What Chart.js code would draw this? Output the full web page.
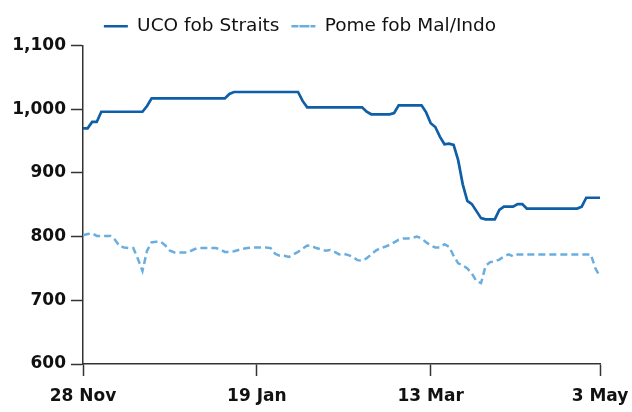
<!DOCTYPE html>
<html>
<head>
<meta charset="utf-8">
<script src="https://cdn.jsdelivr.net/npm/chart.js@4/dist/chart.umd.min.js"></script>
<style>
  html, body { margin: 0; padding: 0; background: #fff; }
  #wrap { width: 632px; height: 412px; }
</style>
</head>
<body>
<div id="wrap"><canvas id="c" width="632" height="412"></canvas></div>
<script>
// Business-day index 0..113 (28 Nov .. 3 May)
const tickLabels = ["28 Nov", "19 Jan", "13 Mar", "3 May"];
const tickIndex = [0, 38, 76, 113];
const seriesNames = ["UCO fob Straits", "Pome fob Mal/Indo"];

const ucoFobStraits = [
  970, 970, 980, 980, 996, 996, 996, 996, 996, 996,
  996, 996, 996, 996, 1005, 1017, 1017, 1017, 1017, 1017,
  1017, 1017, 1017, 1017, 1017, 1017, 1017, 1017, 1017, 1017,
  1017, 1017, 1024, 1027, 1027, 1027, 1027, 1027, 1027, 1027,
  1027, 1027, 1027, 1027, 1027, 1027, 1027, 1027, 1013, 1003,
  1003, 1003, 1003, 1003, 1003, 1003, 1003, 1003, 1003, 1003,
  1003, 1003, 996, 992, 992, 992, 992, 992, 994, 1006,
  1006, 1006, 1006, 1006, 1006, 995, 978, 972, 957, 945,
  946, 944, 920, 882, 856, 851, 840, 829, 827, 827,
  827, 842, 847, 847, 847, 851, 851, 844, 844, 844,
  844, 844, 844, 844, 844, 844, 844, 844, 844, 847,
  861, 861, 861, 861
];

const pomeFobMalIndo = [
  802, 804, 805, 801, 801, 801, 801, 795, 785, 783,
  782, 782, 765, 746, 778, 791, 792, 792, 786, 778,
  775, 775, 775, 775, 779, 782, 782, 782, 782, 782,
  780, 776, 776, 777, 779, 781, 782, 783, 783, 783,
  783, 782, 773, 770, 770, 768, 772, 776, 781, 786,
  785, 782, 780, 778, 779, 776, 772, 773, 771, 768,
  763, 762, 766, 772, 778, 782, 784, 787, 791, 795,
  797, 797, 798, 800, 797, 791, 786, 783, 783, 788,
  784, 770, 758, 755, 750, 742, 730, 727, 754, 760,
  761, 764, 769, 772, 769, 772, 772, 772, 772, 772,
  772, 772, 772, 772, 772, 772, 772, 772, 772, 772,
  772, 772, 750, 737
];

const toPoints = arr => arr.map((v, i) => ({ x: i, y: v }));

const axisColor = '#333333';
const fontFam = '"DejaVu Sans", Verdana, sans-serif';

new Chart(document.getElementById('c'), {
  type: 'line',
  data: {
    datasets: [
      {
        label: seriesNames[0],
        data: toPoints(ucoFobStraits),
        borderColor: '#0f5fa8',
        backgroundColor: '#0f5fa8',
        borderWidth: 2.7,
        pointRadius: 0,
        tension: 0,
        borderJoinStyle: 'miter'
      },
      {
        label: seriesNames[1],
        data: toPoints(pomeFobMalIndo),
        borderColor: '#6aaee0',
        backgroundColor: '#6aaee0',
        borderWidth: 2.5,
        borderDash: [7, 4],
        pointRadius: 0,
        tension: 0
      }
    ]
  },
  options: {
    responsive: false,
    animation: false,
    devicePixelRatio: 1,
    layout: { padding: { left: 0, right: 32, top: 5, bottom: 0 } },
    plugins: {
      tooltip: { enabled: false },
      legend: {
        display: true,
        position: 'top',
        align: 'center',
        labels: {
          boxWidth: 24,
          boxHeight: 0,
          padding: 12,
          color: '#111',
          font: { family: fontFam, size: 18.5 }
        }
      }
    },
    scales: {
      x: {
        type: 'linear',
        min: 0,
        max: tickIndex[tickIndex.length - 1],
        afterBuildTicks: s => { s.ticks = tickIndex.map(v => ({ value: v })); },
        afterFit: s => { s.height = 48; s.paddingRight = 0; s.paddingLeft = 0; },
        ticks: {
          autoSkip: false,
          maxRotation: 0,
          padding: 10,
          color: '#111',
          font: { family: fontFam, size: 17, weight: 'bold' },
          callback: v => tickLabels[tickIndex.indexOf(v)]
        },
        grid: {
          drawOnChartArea: false,
          drawTicks: true,
          tickLength: 12,
          tickColor: axisColor,
          tickWidth: 1.5
        },
        border: { display: true, color: axisColor, width: 1.5 }
      },
      y: {
        min: 600,
        max: 1100,
        afterFit: s => { s.width = 83; },
        ticks: {
          stepSize: 100,
          padding: 5,
          color: '#111',
          font: { family: fontFam, size: 17, weight: 'bold' },
          callback: v => v.toLocaleString('en-US')
        },
        grid: {
          drawOnChartArea: false,
          drawTicks: true,
          tickLength: 12,
          tickColor: axisColor,
          tickWidth: 1.5
        },
        border: { display: true, color: axisColor, width: 1.5 }
      }
    }
  }
});
</script>
</body>
</html>
